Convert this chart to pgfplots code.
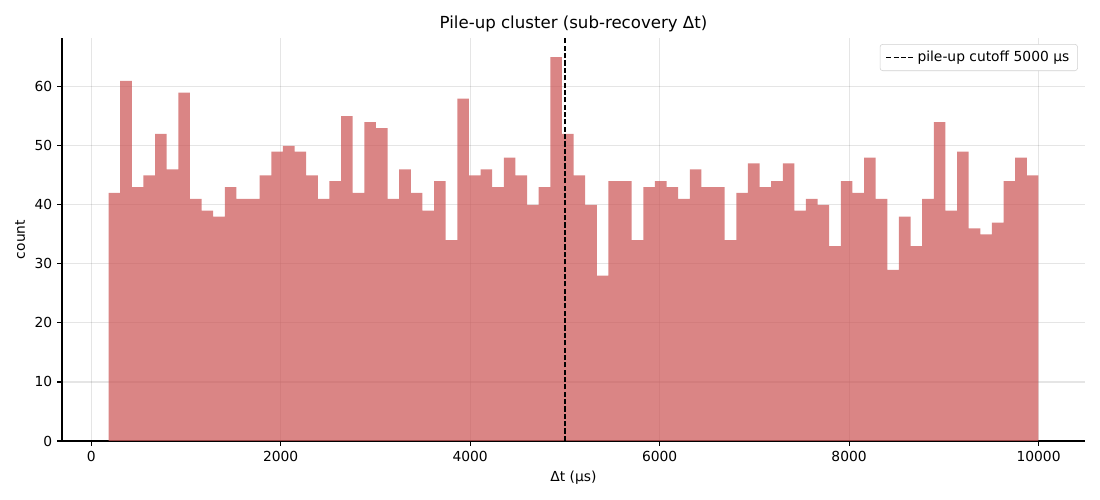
\documentclass[border=0pt]{standalone}
\usepackage{pgfplots}
\usepackage{pgfplotstable}
\pgfplotsset{compat=1.18}
\usepackage{fontspec}
\setmainfont{DejaVu Sans}
\definecolor{barc}{HTML}{CD5C5C}
\pgfplotstableread{
x y
183.0 42
305.7 61
428.4 43
551.1 45
673.8 52
796.5 46
919.2 59
1041.9 41
1164.6 39
1287.3 38
1410.0 43
1532.7 41
1655.4 41
1778.1 45
1900.8 49
2023.5 50
2146.2 49
2268.9 45
2391.6 41
2514.3 44
2637.0 55
2759.7 42
2882.4 54
3005.1 53
3127.8 41
3250.5 46
3373.2 42
3495.9 39
3618.6 44
3741.3 34
3864.0 58
3986.7 45
4109.4 46
4232.1 43
4354.8 48
4477.5 45
4600.2 40
4722.9 43
4845.6 65
4968.3 52
5091.0 45
5213.7 40
5336.4 28
5459.1 44
5581.8 44
5704.5 34
5827.2 43
5949.9 44
6072.6 43
6195.3 41
6318.0 46
6440.7 43
6563.4 43
6686.1 34
6808.8 42
6931.5 47
7054.2 43
7176.9 44
7299.6 47
7422.3 39
7545.0 41
7667.7 40
7790.4 33
7913.1 44
8035.8 42
8158.5 48
8281.2 41
8403.9 29
8526.6 38
8649.3 33
8772.0 41
8894.7 54
9017.4 39
9140.1 49
9262.8 36
9385.5 35
9508.2 37
9630.9 44
9753.6 48
9876.3 45
9999.0 45
}\histdata
\begin{document}
\begin{tikzpicture}
\path[use as bounding box] (-44.64bp,-42.48bp) rectangle (747.36bp,317.52bp);
\begin{axis}[
  scale only axis, width=736.56bp, height=290.16bp,
  xmin=-308, xmax=10490, ymin=0, ymax=68.25,
  axis x line*=bottom, axis y line*=left,
  axis line style={-, line width=0.8bp},
  tick align=outside, tick pos=left,
  major tick length=3.5bp,
  tick style={black, line width=0.8bp},
  xtick={0,2000,...,10000}, ytick={0,10,...,60},
  scaled x ticks=false, scaled y ticks=false,
  /pgf/number format/.cd, 1000 sep={}, assume math mode=true, /pgfplots/.cd,
  ticklabel style={font=\fontsize{10}{12}\selectfont},
  grid=major, major grid style={black, opacity=0.1, line width=0.8bp},
  xlabel={Δt (μs)}, ylabel={count},
  label style={font=\fontsize{10}{12}\selectfont},
  title={Pile-up cluster (sub-recovery Δt)},
  title style={font=\fontsize{12}{14}\selectfont, yshift=-5bp},
  legend style={at={(0.993,0.985)}, anchor=north east, draw=black!18, rounded corners=2pt,
    font=\fontsize{10}{12}\selectfont, inner xsep=4pt, inner ysep=3pt},
  legend cell align=left,
  legend image code/.code={\draw[#1] (0bp,0bp) -- (20bp,0bp);},
]
\addplot[ybar interval, fill=barc, fill opacity=0.75, draw=none, forget plot] table[x=x, y=y] {\histdata};
\addplot[black, line width=1bp, dash pattern=on 3.7bp off 1.6bp] coordinates {(5000,0) (5000,68.25)};
\addlegendentry{pile-up cutoff 5000 μs}
\end{axis}
\end{tikzpicture}
\end{document}
